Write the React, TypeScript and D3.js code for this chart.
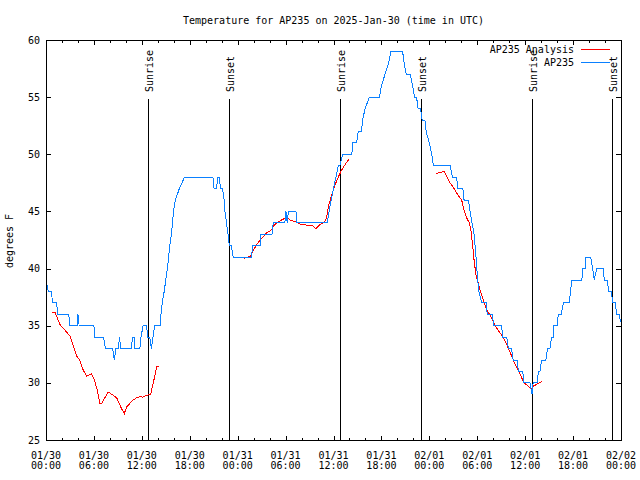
import React from "react";
import * as d3 from "d3";

const title = "Temperature for AP235 on 2025-Jan-30 (time in UTC)";
const yLabel = "degrees F";

// hours since 2025-01-30 00:00 UTC
const xTickHours = [0, 6, 12, 18, 24, 30, 36, 42, 48, 54, 60, 66, 72];
const xTickDates = ["01/30", "01/30", "01/30", "01/30", "01/31", "01/31", "01/31", "01/31", "02/01", "02/01", "02/01", "02/01", "02/02"];
const xTickTimes = ["00:00", "06:00", "12:00", "18:00", "00:00", "06:00", "12:00", "18:00", "00:00", "06:00", "12:00", "18:00", "00:00"];
const xMinorHours = d3.range(0, 73, 2);
const yTicks = [25, 30, 35, 40, 45, 50, 55, 60];

const sunHours = [12.81, 22.95, 36.85, 47.0, 60.9, 70.9];
const sunLabels = ["Sunrise", "Sunset", "Sunrise", "Sunset", "Sunrise", "Sunset"];

const obsHours = [
  0.0, 0.3, 0.7, 0.8, 1.3, 1.5, 2.85, 3.0, 3.9, 4.0, 4.15, 6.0, 6.1, 7.2, 7.45, 8.35, 8.55, 8.75, 9.05, 9.2, 9.35,
  10.73, 10.8, 11.05, 11.1, 11.75, 11.9, 12.15, 12.6, 12.75, 13.0, 13.2, 13.4, 13.6, 14.3, 14.4, 14.55, 14.8, 15.0,
  15.2, 15.35, 15.5, 15.7, 15.85, 15.95, 16.2, 16.7, 17.35, 20.9, 21.05, 21.35, 21.5, 21.7, 21.85, 22.1, 22.3, 22.4,
  22.6, 22.8, 22.95, 23.2, 23.45, 25.75, 25.85, 26.8, 26.85, 28.3, 28.45, 29.9, 30.05, 30.2, 30.35, 31.3, 31.4, 35.2,
  35.45, 35.7, 36.0, 36.3, 36.6, 36.8, 37.15, 38.3, 38.4, 38.9, 39.1, 39.5, 39.65, 39.95, 40.5, 41.75, 42.0, 42.45,
  42.9, 43.2, 44.65, 44.85, 45.1, 45.6, 45.9, 46.15, 46.4, 46.6, 46.9, 47.1, 47.45, 47.6, 48.0, 48.3, 48.5, 50.6,
  50.9, 51.45, 51.5, 52.2, 52.35, 52.9, 53.1, 53.6, 53.85, 53.95, 54.05, 54.2, 54.55, 55.1, 55.25, 55.95, 56.0, 57.05,
  57.2, 57.7, 57.9, 58.3, 58.5, 59.0, 59.15, 59.7, 59.85, 60.6, 60.85, 61.0, 61.5, 61.65, 61.85, 62.05, 62.6, 62.8,
  63.1, 63.3, 63.5, 63.6, 64.0, 64.15, 64.5, 64.8, 65.5, 65.7, 65.8, 67.1, 67.2, 67.5, 67.6, 68.2, 68.45, 68.65,
  68.95, 69.8, 69.9, 70.3, 70.45, 70.8, 70.95, 71.3, 71.45, 71.75, 71.9, 72.0,
];
const obsTemps = [
  39, 38, 38, 37, 37, 36, 36, 35, 35, 36, 35, 35, 34, 34, 33, 33, 32, 33, 33, 34, 33,
  33, 34, 34, 33, 33, 34, 35, 35, 34, 34, 33, 34, 35, 35, 36, 37, 38, 39,
  40, 41, 42, 43, 44, 45, 46, 47, 48, 48, 47, 47, 48, 48, 47, 47, 46, 45,
  44, 43, 42, 42, 41, 41, 42, 42, 43, 43, 44, 44, 45, 44, 45, 45, 44, 44,
  45, 46, 47, 48, 49, 49, 50, 50, 51, 51, 52, 52, 53, 54, 55, 55, 56, 57,
  58, 59, 59, 58, 57, 57, 56, 55, 55, 54, 54, 53, 53, 52, 51, 50, 49, 49,
  48, 48, 47, 47, 46, 46, 45, 43, 41, 40, 39, 38, 37, 37, 36, 36, 35, 35,
  34, 34, 33, 33, 32, 32, 31, 31, 30, 30, 29, 30, 30, 31, 31, 32, 32, 33,
  33, 34, 34, 35, 35, 36, 36, 37, 37, 38, 39, 39, 40, 40, 41, 41, 40, 39,
  40, 40, 39, 39, 38, 38, 37, 37, 36, 36, 35.5, 35.3,
];

const anaHours = [
  0.7, 1.13, 1.4, 1.75, 2.38, 3.0, 3.3, 3.8, 4.2, 4.67, 5.1, 5.7, 6.05, 6.4, 6.76, 6.97, 7.8, 8.43, 8.85, 9.35, 9.8,
  10.1, 10.5, 10.93, 11.35, 11.8, 12.1, 12.6, 13.1, 13.44, 13.86, 14.1, 19.0,
  24.8, 25.55, 25.96, 26.4, 26.8, 27.6, 28.26, 28.4, 28.9, 29.5, 30.2, 30.55, 31.2, 31.8, 32.6, 33.27, 33.8, 34.4,
  34.9, 35.15, 35.35, 35.7, 36.0, 36.3, 36.6, 37.0, 37.45, 37.95, 43.0,
  48.8, 49.3, 49.9, 50.2, 50.6, 50.9, 51.2, 51.6, 52.05, 52.35, 52.7, 53.0, 53.2, 53.4, 53.6, 53.85, 54.1, 54.4,
  54.75, 55.2, 55.7, 56.2, 56.6, 57.05, 57.6, 58.1, 58.7, 59.15, 59.85, 60.4, 60.8, 61.0, 61.5, 62.07,
];
const anaTemps: (number | null)[] = [
  36.2, 36.2, 35.7, 35.1, 34.6, 34.1, 33.5, 32.4, 32.0, 31.1, 30.6, 30.8, 30.3, 29.4, 28.2, 28.2, 29.2, 28.9, 28.7, 27.9, 27.3,
  27.9, 28.2, 28.5, 28.7, 28.8, 28.75, 28.9, 29.0, 30.0, 31.4, 31.4, null,
  40.9, 41.05, 41.6, 42.1, 42.5, 43.1, 43.4, 43.67, 44.0, 44.25, 44.5, 44.25, 44.1, 43.9, 43.8, 43.8, 43.5, 43.9,
  44.1, 44.5, 45.4, 46.3, 46.9, 47.5, 48.0, 48.6, 49.1, 49.6, null,
  48.3, 48.4, 48.5, 48.0, 47.5, 47.2, 46.9, 46.4, 46.0, 45.1, 44.4, 44.0, 43.4, 42.2, 40.75, 39.4, 38.85, 38.0,
  37.25, 36.4, 35.8, 35.1, 34.6, 34.2, 33.5, 32.7, 31.7, 31.1, 30.0, 29.7, 29.45, 29.7, 29.9, 30.1,
];

const seriesNames = ["AP235 Analysis", "AP235"];
const seriesColors = ["#ff0000", "#0a80ff"];

const L = 46, R = 621, T = 40, B = 440;
const FONT = "'DejaVu Sans Mono', 'Liberation Mono', monospace";

export default function App() {
  const x = d3.scaleLinear().domain([0, 72]).range([L, R]);
  const y = d3.scaleLinear().domain([25, 60]).range([B, T]);

  const obsData = obsHours.map((h, i) => ({ h, v: obsTemps[i] as number | null }));
  const anaData = anaHours.map((h, i) => ({ h, v: anaTemps[i] }));
  const line = d3
    .line<{ h: number; v: number | null }>()
    .defined((d) => d.v !== null)
    .x((d) => x(d.h))
    .y((d) => y(d.v as number));

  const px = (v: number) => Math.round(v) + 0.5;

  return (
    <svg
      width={640}
      height={480}
      style={{ position: "fixed", left: 0, top: 0, background: "#fff" }}
      fontFamily={FONT}
      fontSize={10}
    >
      <rect x={0} y={0} width={640} height={480} fill="#fff" />
      <text x={(L + R) / 2} y={24} textAnchor="middle" fill="#000">
        {title}
      </text>
      <text transform={`translate(13,241) rotate(-90)`} textAnchor="middle" fill="#000">
        {yLabel}
      </text>

      {/* y ticks */}
      {yTicks.map((t) => (
        <g key={"y" + t}>
          <line x1={L} x2={L + 5} y1={px(y(t))} y2={px(y(t))} stroke="#000" shapeRendering="crispEdges" />
          <line x1={R - 5} x2={R} y1={px(y(t))} y2={px(y(t))} stroke="#000" shapeRendering="crispEdges" />
          <text x={40} y={y(t)} dy="0.35em" textAnchor="end" fill="#000">
            {t}
          </text>
        </g>
      ))}

      {/* x minor ticks */}
      {xMinorHours.map((h) => (
        <g key={"m" + h}>
          <line x1={px(x(h))} x2={px(x(h))} y1={B} y2={B - 2.5} stroke="#000" shapeRendering="crispEdges" />
          <line x1={px(x(h))} x2={px(x(h))} y1={T} y2={T + 2.5} stroke="#000" shapeRendering="crispEdges" />
        </g>
      ))}
      {/* x major ticks */}
      {xTickHours.map((h, i) => (
        <g key={"x" + h}>
          <line x1={px(x(h))} x2={px(x(h))} y1={B} y2={B - 4.5} stroke="#000" shapeRendering="crispEdges" />
          <line x1={px(x(h))} x2={px(x(h))} y1={T} y2={T + 4.5} stroke="#000" shapeRendering="crispEdges" />
          <text x={x(h)} y={459} textAnchor="middle" fill="#000">
            {xTickDates[i]}
          </text>
          <text x={x(h)} y={469} textAnchor="middle" fill="#000">
            {xTickTimes[i]}
          </text>
        </g>
      ))}

      {/* sunrise / sunset */}
      {sunHours.map((h, i) => (
        <g key={"s" + i}>
          <line x1={px(x(h))} x2={px(x(h))} y1={99} y2={B} stroke="#000" shapeRendering="crispEdges" />
          <text transform={`translate(${x(h) + 1},92) rotate(-90)`} dy="0.35em" textAnchor="start" fill="#000">
            {sunLabels[i]}
          </text>
        </g>
      ))}

      {/* data */}
      <path d={line(anaData) || ""} fill="none" stroke={seriesColors[0]} strokeWidth={1} shapeRendering="crispEdges" />
      <path d={line(obsData) || ""} fill="none" stroke={seriesColors[1]} strokeWidth={1} shapeRendering="crispEdges" />

      {/* legend */}
      {seriesNames.map((n, i) => (
        <g key={"l" + i}>
          <text x={574} y={49 + i * 13} dy="0.35em" textAnchor="end" fill="#000">
            {n}
          </text>
          <line x1={581} x2={610} y1={49.5 + i * 13} y2={49.5 + i * 13} stroke={seriesColors[i]} shapeRendering="crispEdges" />
        </g>
      ))}

      {/* frame */}
      <rect x={L + 0.5} y={T + 0.5} width={R - L} height={B - T} fill="none" stroke="#000" shapeRendering="crispEdges" />
    </svg>
  );
}
